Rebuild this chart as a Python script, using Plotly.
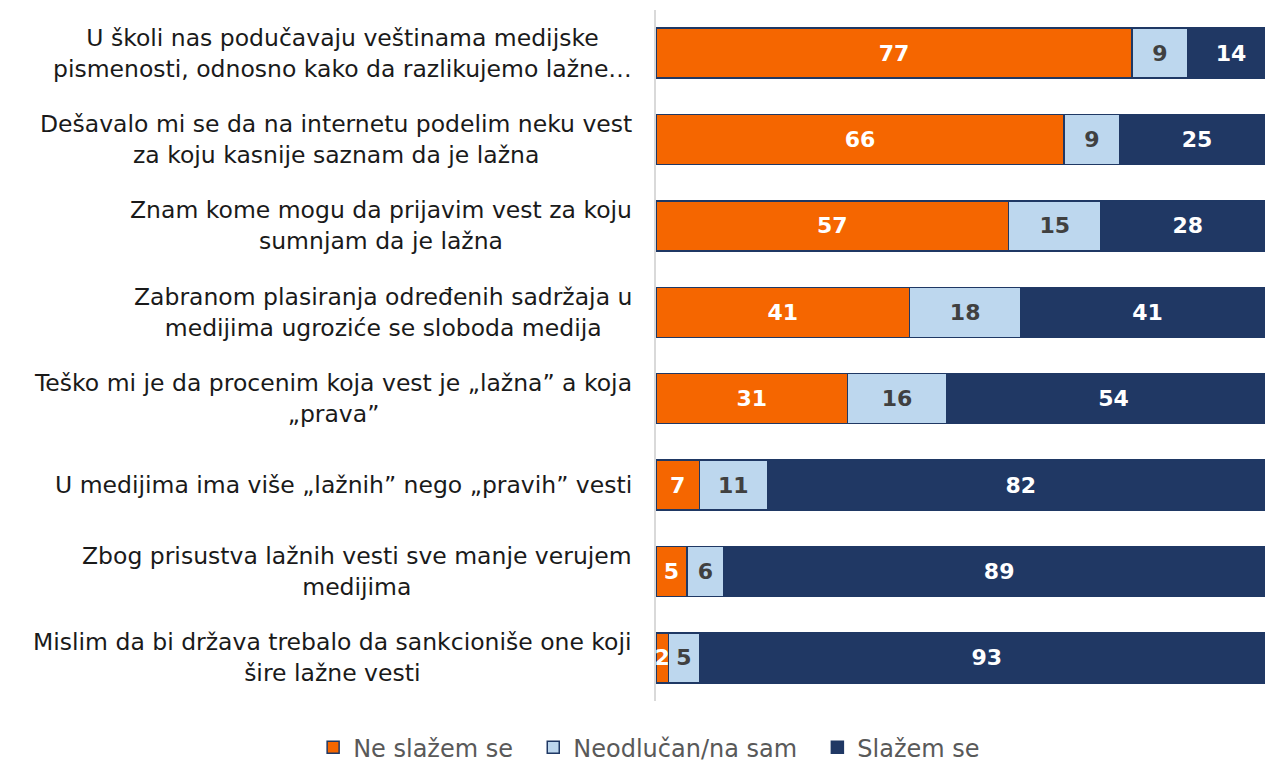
import plotly.graph_objects as go

categories = [
    "U školi nas podučavaju veštinama medijske<br>pismenosti, odnosno kako da razlikujemo lažne…",
    "Dešavalo mi se da na internetu podelim neku vest<br>za koju kasnije saznam da je lažna",
    "Znam kome mogu da prijavim vest za koju<br>sumnjam da je lažna",
    "Zabranom plasiranja određenih sadržaja u<br>medijima ugroziće se sloboda medija",
    "Teško mi je da procenim koja vest je „lažna” a koja<br>„prava”",
    "U medijima ima više „lažnih” nego „pravih” vesti",
    "Zbog prisustva lažnih vesti sve manje verujem<br>medijima",
    "Mislim da bi država trebalo da sankcioniše one koji<br>šire lažne vesti",
]
ne_slazem = [77, 66, 57, 41, 31, 7, 5, 2]
neodlucan = [9, 9, 15, 18, 16, 11, 6, 5]
slazem = [14, 25, 28, 41, 54, 82, 89, 93]
series_names = ["Ne slažem se", "Neodlučan/na sam", "Slažem se"]

series = [
    (series_names[0], ne_slazem, "#F56600", "white"),
    (series_names[1], neodlucan, "#BDD7EE", "#404040"),
    (series_names[2], slazem, "#203864", "white"),
]

ids = list(range(len(categories)))

fig = go.Figure()
for name, vals, color, tcolor in series:
    fig.add_trace(go.Bar(
        y=ids, x=vals, name=name + "\u00a0\u00a0", orientation="h",
        marker=dict(color=color, line=dict(color="#1F3864", width=1.5)),
        text=[str(v) for v in vals], textposition="inside",
        insidetextanchor="middle",
        textfont=dict(family="DejaVu Sans", size=22, color=tcolor, weight="bold"),
        hoverinfo="skip",
    ))

for i, c in zip(ids, categories):
    fig.add_annotation(
        x=0, xref="paper", y=i, yref="y", text=c, showarrow=False,
        xanchor="right", yanchor="middle", align="center", xshift=-22,
        font=dict(family="DejaVu Sans", size=23.5, color="#1a1a1a"),
    )

fig.update_layout(
    barmode="stack",
    bargap=0.42,
    width=1265, height=763,
    margin=dict(l=656, r=0, t=10, b=62, autoexpand=False),
    plot_bgcolor="white", paper_bgcolor="white",
    uniformtext=dict(mode="show", minsize=22),
    xaxis=dict(range=[0, 98.5], visible=False, fixedrange=True),
    yaxis=dict(autorange="reversed", showticklabels=False, fixedrange=True,
               showline=True, linecolor="#D9D9D9", linewidth=2,
               showgrid=False, zeroline=False, ticks=""),
    legend=dict(orientation="h", x=-0.563, xanchor="left", xref="paper",
                y=-0.035, yanchor="top", yref="paper",
                font=dict(family="DejaVu Sans", size=24, color="#595959"),
                itemwidth=30, traceorder="normal"),
    showlegend=True,
)

fig.write_html(
    "out.html",
    config={"displayModeBar": False},
    post_script="document.body.style.margin='0';document.body.style.overflow='hidden';",
)
